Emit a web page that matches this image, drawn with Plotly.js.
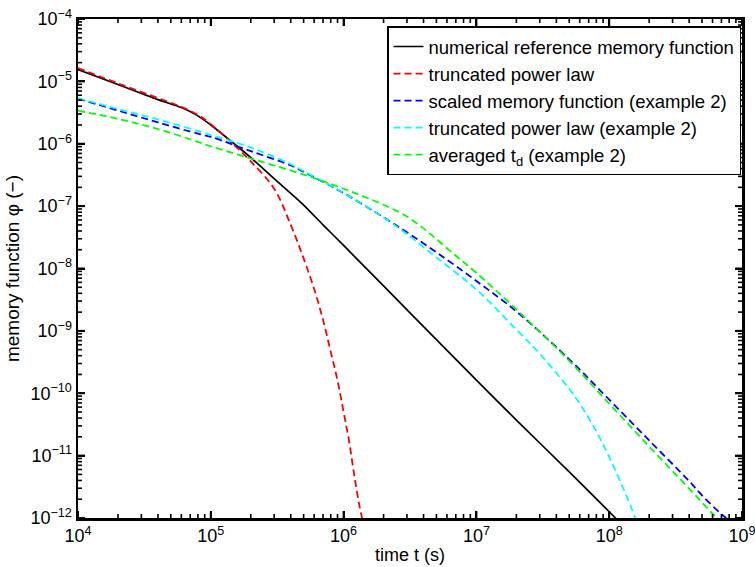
<!DOCTYPE html>
<html>
<head>
<meta charset="utf-8">
<script src="https://cdn.plot.ly/plotly-3.0.1.min.js"></script>
<style>html,body{margin:0;padding:0;background:#fff;}#chart{width:755px;height:567px;}</style>
</head>
<body>
<div id="chart"></div>
<script>
// time t (s) and memory function values
const tRef = [1e4, 2e4, 4e4, 6e4, 8e4, 1e5, 1.5e5, 2e5, 3e5, 5e5, 7e5, 1e6, 2e6, 5e6, 1e7, 2e7, 5e7, 1e8, 1.2e8];
const phiRef = [1.55e-5, 8.9e-6, 5.1e-6, 3.8e-6, 2.8e-6, 2.0e-6, 1.0e-6, 6.0e-7, 2.75e-7, 1.04e-7, 5.0e-8, 2.34e-8, 5.25e-9, 7.24e-10, 1.62e-10, 3.7e-11, 5.5e-12, 1.26e-12, 8.5e-13];

const tTPL = [1e4, 2e4, 4e4, 6e4, 8e4, 1e5, 1.5e5, 2e5, 3e5, 4e5, 5e5, 6e5, 7e5, 8e5, 9e5, 1e6, 1.1e6, 1.2e6, 1.3e6, 1.4e6];
const phiTPL = [1.64e-5, 9.3e-6, 5.4e-6, 3.9e-6, 2.9e-6, 2.05e-6, 9.5e-7, 5.2e-7, 1.9e-7, 5.0e-8, 1.45e-8, 4.7e-9, 1.5e-9, 4.6e-10, 1.6e-10, 5.0e-11, 1.7e-11, 5.0e-12, 1.8e-12, 8.5e-13];

const tScaled = [1e4, 2e4, 4e4, 8e4, 1e5, 2e5, 4e5, 5e5, 1e6, 2e6, 3e6, 5e6, 1e7, 2e7, 5e7, 1e8, 2e8, 4e8, 5e8, 7e8, 8e8];
const phiScaled = [5.3e-6, 3.4e-6, 2.2e-6, 1.45e-6, 1.29e-6, 7.6e-7, 4.5e-7, 3.55e-7, 1.62e-7, 6.6e-8, 3.8e-8, 1.82e-8, 6.3e-9, 2.05e-9, 3.5e-10, 7.9e-11, 1.75e-11, 3.9e-12, 2.3e-12, 1.15e-12, 9.2e-13];

const tTPL2 = [1e4, 2e4, 4e4, 8e4, 1e5, 2e5, 4e5, 5e5, 1e6, 2e6, 3e6, 5e6, 1e7, 2e7, 3e7, 5e7, 6e7, 8e7, 1e8, 1.25e8, 1.5e8, 1.6e8];
const phiTPL2 = [5.4e-6, 3.6e-6, 2.45e-6, 1.6e-6, 1.38e-6, 8.7e-7, 4.7e-7, 3.65e-7, 1.62e-7, 6.6e-8, 3.55e-8, 1.5e-8, 4.6e-9, 1.05e-9, 4.3e-10, 1.17e-10, 6.8e-11, 2.45e-11, 9.5e-12, 3.3e-12, 1.3e-12, 8.8e-13];

const tAvg = [1e4, 2e4, 4e4, 8e4, 1e5, 2e5, 5e5, 1e6, 2e6, 3e6, 4e6, 5e6, 7e6, 1e7, 2e7, 5e7, 1e8, 2e8, 4e8, 6e8, 7e8];
const phiAvg = [3.4e-6, 2.5e-6, 1.72e-6, 1.07e-6, 9.1e-7, 5.8e-7, 3.2e-7, 1.9e-7, 1.05e-7, 6.8e-8, 4.4e-8, 2.95e-8, 1.6e-8, 8.5e-9, 2.2e-9, 3.3e-10, 6.8e-11, 1.4e-11, 2.95e-12, 1.17e-12, 8.5e-13];

const names = [
  'numerical reference memory function',
  'truncated power law',
  'scaled memory function (example 2)',
  'truncated power law (example 2)',
  'averaged t<sub>d</sub> (example 2)'
];

const xRangeExp = [4, 9];
const yRangeExp = [-12, -4];
const yTickVals = [1e-12, 1e-11, 1e-10, 1e-9, 1e-8, 1e-7, 1e-6, 1e-5, 1e-4];
const yTickText = ['10<sup>\u221212</sup>', '10<sup>\u221211</sup>', '10<sup>\u221210</sup>', '10<sup>\u22129</sup>', '10<sup>\u22128</sup>', '10<sup>\u22127</sup>', '10<sup>\u22126</sup>', '10<sup>\u22125</sup>', '10<sup>\u22124</sup>'];
const xTickVals = [1e4, 1e5, 1e6, 1e7, 1e8, 1e9];
const xTickText = ['10<sup>4</sup>', '10<sup>5</sup>', '10<sup>6</sup>', '10<sup>7</sup>', '10<sup>8</sup>', '10<sup>9</sup>'];

function minorTicks(lo, hi) {
  const v = [];
  for (let e = lo; e < hi; e++) for (let m = 2; m <= 9; m++) v.push(m * Math.pow(10, e));
  return v;
}

const dashPat = '7px,4px';
const traces = [
  {x: tRef, y: phiRef, name: names[0], mode: 'lines', line: {color: '#000000', width: 1.7, shape: 'spline', smoothing: 0.6}},
  {x: tTPL, y: phiTPL, name: names[1], mode: 'lines', line: {color: '#ff0000', width: 1.8, dash: dashPat, shape: 'spline'}},
  {x: tScaled, y: phiScaled, name: names[2], mode: 'lines', line: {color: '#0000ff', width: 1.8, dash: dashPat, shape: 'spline'}},
  {x: tTPL2, y: phiTPL2, name: names[3], mode: 'lines', line: {color: '#00ffff', width: 1.8, dash: dashPat, shape: 'spline'}},
  {x: tAvg, y: phiAvg, name: names[4], mode: 'lines', line: {color: '#00ff00', width: 1.8, dash: dashPat, shape: 'spline'}}
];

// tick marks on all four sides, drawn as line segments through helper axes
// (x ticks: log x axis + hidden linear 0..1 axis y2; y ticks: log y axis + hidden linear 0..1 axis x2)
const PW = 664, PH = 499;
const majLen = 7, minLen = 4;
function xTickTrace(vals, len, w) {
  const xs = [], ys = [];
  vals.forEach(v => { xs.push(v, v, null, v, v, null); ys.push(0, len / PH, null, 1, 1 - len / PH, null); });
  return {x: xs, y: ys, xaxis: 'x', yaxis: 'y2', mode: 'lines', showlegend: false, hoverinfo: 'skip',
          connectgaps: false, line: {color: '#000', width: w}};
}
function yTickTrace(vals, len, w) {
  const xs = [], ys = [];
  vals.forEach(v => { ys.push(v, v, null, v, v, null); xs.push(0, len / PW, null, 1, 1 - len / PW, null); });
  return {x: xs, y: ys, xaxis: 'x2', yaxis: 'y', mode: 'lines', showlegend: false, hoverinfo: 'skip',
          connectgaps: false, line: {color: '#000', width: w}};
}
traces.push(xTickTrace(xTickVals, majLen, 2));
traces.push(xTickTrace(minorTicks(xRangeExp[0], xRangeExp[1]), minLen, 1.6));
traces.push(yTickTrace(yTickVals, majLen, 2));
traces.push(yTickTrace(minorTicks(yRangeExp[0], yRangeExp[1]), minLen, 1.6));

const fam = 'Liberation Sans, Arial, Helvetica, sans-serif';

const layout = {
  width: 755, height: 567,
  margin: {l: 78, r: 13, t: 19, b: 49},
  paper_bgcolor: '#fff', plot_bgcolor: '#fff',
  font: {family: fam, color: '#000', size: 17},
  showlegend: true,
  legend: {
    x: 0.9985, y: 0.985, xanchor: 'right', yanchor: 'top',
    bgcolor: '#fff', bordercolor: '#000', borderwidth: 1.5,
    font: {family: fam, size: 18.5, color: '#000'},
    tracegroupgap: 0, itemwidth: 30
  },
  xaxis: {
    type: 'log', range: xRangeExp,
    tickmode: 'array', tickvals: xTickVals, ticktext: xTickText,
    ticklabeloverflow: 'allow',
    ticks: 'inside', ticklen: 7, tickwidth: 2, tickcolor: '#000',
    showline: true, linecolor: '#000', linewidth: 2.5, mirror: 'ticks',
    showgrid: false, zeroline: false,
    tickfont: {family: fam, size: 18, color: '#000'},
    title: {text: 'time t (s)', font: {family: fam, size: 18, color: '#000'}, standoff: 4}
  },
  yaxis: {
    type: 'log', range: yRangeExp,
    tickmode: 'array', tickvals: yTickVals, ticktext: yTickText,
    ticklabeloverflow: 'allow',
    ticks: 'inside', ticklen: 7, tickwidth: 2, tickcolor: '#000',
    showline: true, linecolor: '#000', linewidth: 2.5, mirror: 'ticks',
    showgrid: false, zeroline: false,
    tickfont: {family: fam, size: 18, color: '#000'},
    title: {text: 'memory function \u03c6 (\u2212)', font: {family: fam, size: 19, color: '#000'}, standoff: 6}
  },
  xaxis2: {type: 'linear', range: [0, 1], overlaying: 'x', anchor: 'y', visible: false, fixedrange: true},
  yaxis2: {type: 'linear', range: [0, 1], overlaying: 'y', anchor: 'x', visible: false, fixedrange: true}
};

Plotly.newPlot('chart', traces, layout, {displayModeBar: false, staticPlot: true});
</script>
</body>
</html>
